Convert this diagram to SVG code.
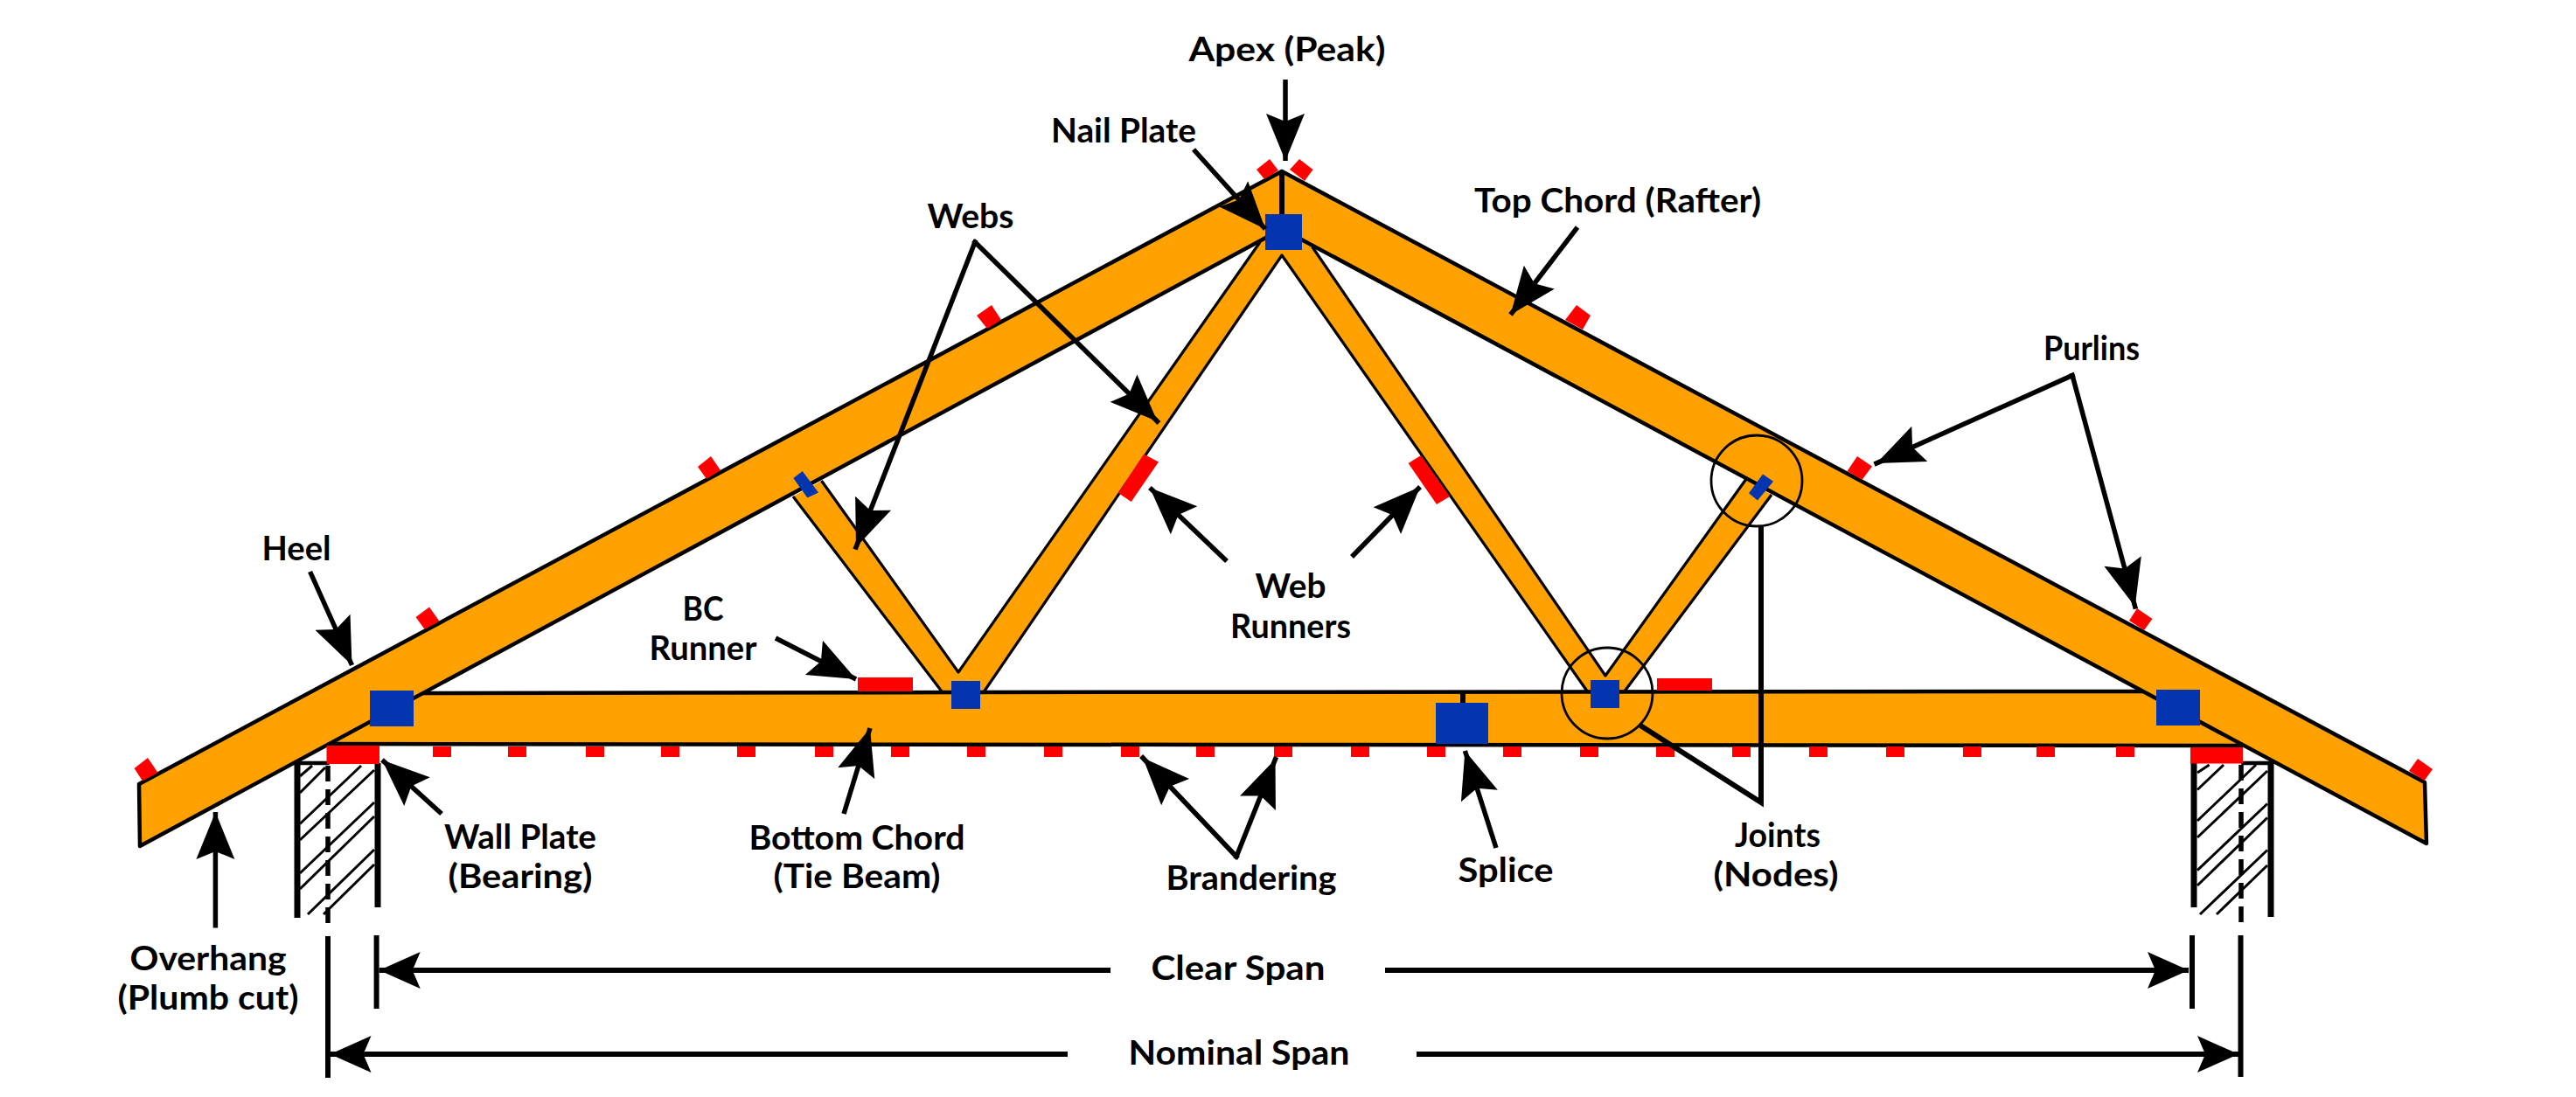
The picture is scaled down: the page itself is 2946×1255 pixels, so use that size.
<svg xmlns="http://www.w3.org/2000/svg" width="2946" height="1255" viewBox="0 0 2946 1255">
<style>
.o{fill:#FFA100;stroke:none}
.e{fill:none;stroke:#000;stroke-width:4.5;stroke-linejoin:round;stroke-linecap:round}
.w{fill:none;stroke:#000;stroke-width:3.2;stroke-linejoin:round}
.b{fill:#0335B0}
.r{fill:#F00}
.l{fill:none;stroke:#000;stroke-width:6}
.a{fill:none;stroke:#000;stroke-width:5.5;marker-end:url(#h)}
.m{stroke-linecap:square}
.d{fill:none;stroke:#000;stroke-width:6;marker-end:url(#dh)}
.c{fill:none;stroke:#000;stroke-width:2.8}
.v{fill:none;stroke:#000;stroke-width:7}
.da{fill:none;stroke:#000;stroke-width:5.5;stroke-dasharray:18 9}
.h{fill:none;stroke:#000;stroke-width:3}
text{font-family:"Lato","Liberation Sans",sans-serif;font-weight:700;font-size:39px;fill:#000;text-anchor:middle}
</style>
<defs>
<marker id="h" markerUnits="userSpaceOnUse" markerWidth="56" markerHeight="48" refX="54" refY="24" orient="auto"><path d="M0,2 L54,24 L0,46 L9,24z"/></marker>
<marker id="dh" markerUnits="userSpaceOnUse" markerWidth="50" markerHeight="46" refX="47" refY="23" orient="auto"><path d="M0,2 L47,23 L0,44 L9,23z"/></marker>
</defs>
<g id="wall-left">
<path class="h" d="M343,888L357,876M343,907L372,878M343,942.5L413,876M343,961L428,881M343,999L428,918M343,1017L428,934M352,1046L428,972M370,1046L428,989"/>
<path class="v" d="M340,871V1050M432,873V1038"/>
<path class="e" d="M340,873H375"/>
<path class="da" d="M375,876V1059"/>
</g>
<g id="wall-right">
<path class="h" d="M2513,884L2526.6,875M2513,903.5L2543,875M2513,939L2580,875M2513,958L2593,882M2513,995.6L2593,919.5M2513,1013L2593,935.5M2516,1046L2593,972.5M2535,1046L2593,990"/>
<path class="v" d="M2509,873V1038M2597,872V1049"/>
<path class="e" d="M2565,873H2597"/>
<path class="da" d="M2563,875V1063"/>
</g>
<g id="webs">
<polygon class="o" points="907,568 939.5,550 1096,769 1125.5,792 1077,792"/>
<polygon class="o" points="1096,769 1441,277 1441,255 1490,255 1500.5,282 1836,773 1858.5,792 1816,792 1466,292 1125.5,792"/>
<polygon class="o" points="1836,773 1997,548 2026,566 1858.5,792 1816,792"/>
<path class="w" d="M907,568L1077,791M939.5,550L1096,769L1441,277M1125.5,791L1466,292L1816,792M1500.5,282L1836,773L1997,548M1858.5,790L2026,566"/>
</g>
<g id="bottom-chord">
<polygon class="o" points="376,851 484,793 2450,791 2564,853"/>
<path class="e" d="M484,793L1100,792L2450,791M376,851L1400,852L2564,853"/>
</g>
<g id="top-chord-left">
<polygon class="o" points="159,897 1466,196 1466,262 160,968"/>
<path class="e" d="M1466,262L160,968L159,897L1466,196"/>
</g>
<g id="top-chord-right">
<polygon class="o" points="1466,196 2773,895 2775,965 1466,262"/>
<path class="e" d="M1466,196L2773,895L2775,965L1466,262"/>
</g>
<g id="apex-line"><path class="l" d="M1466,196V245"/><path class="l" d="M1673,792V805"/></g>
<g id="nail-plates">
<rect class="b" x="423" y="790" width="50" height="41"/>
<rect class="b" x="1447" y="245" width="42" height="41"/>
<rect class="b" x="1088" y="779" width="33" height="32"/>
<rect class="b" x="1642" y="804" width="60" height="47"/>
<rect class="b" x="1819" y="778" width="33" height="32"/>
<rect class="b" x="2466" y="789" width="50" height="41"/>
<polygon class="b" points="917.7,539 936,563.6 923.4,569.6 907.3,547"/>
<polygon class="b" points="2016,542.4 2028,550.8 2010,572.6 2000,564.2"/>
</g>
<g id="purlins">
<polygon class="r" points="153.6,879 169,867 180.6,884 163,893.6"/>
<polygon class="r" points="475.5,706 491,694.4 502.5,710.7 485.7,720"/>
<polygon class="r" points="798,534 813,522 824,538 808,548"/>
<polygon class="r" points="1117,361 1134,349 1145,366 1129,376"/>
<polygon class="r" points="1437,194 1452,182 1462,195 1446,205"/>
<polygon class="r" points="1475,194 1486,182 1501.5,194 1492,207"/>
<polygon class="r" points="1790,366 1803,349 1819,361 1810,377"/>
<polygon class="r" points="2112.5,539 2124,522 2141,533.6 2129.5,549"/>
<polygon class="r" points="2435,710 2444,696 2461.5,708 2452,721"/>
<polygon class="r" points="2755,882 2765,868 2782,880 2772.6,893"/>
</g>
<g id="runners">
<polygon class="r" points="1308,519.6 1325,528.6 1293.7,574 1279,564"/>
<polygon class="r" points="1610.6,530 1625,521 1658,568 1643,577"/>
<rect class="r" x="981" y="775" width="63" height="16"/>
<rect class="r" x="1895" y="776" width="63" height="14"/>
</g>
<g id="wall-plates">
<rect class="r" x="373.5" y="853" width="60.5" height="21"/>
<rect class="r" x="2505" y="855" width="60" height="18.5"/>
</g>
<g id="brandering" class="r">
<rect x="495" y="854" width="21" height="12"/><rect x="581" y="854" width="21" height="12"/><rect x="670" y="854" width="21" height="12"/><rect x="756" y="854" width="21" height="12"/><rect x="843" y="854" width="21" height="12"/><rect x="932" y="854" width="21" height="12"/><rect x="1019" y="854" width="21" height="12"/><rect x="1106" y="854" width="21" height="12"/><rect x="1194" y="854" width="21" height="12"/><rect x="1282" y="854" width="21" height="12"/><rect x="1368" y="854" width="21" height="12"/><rect x="1457" y="854" width="21" height="12"/><rect x="1545" y="854" width="21" height="12"/><rect x="1632" y="854" width="21" height="12"/><rect x="1719" y="854" width="21" height="12"/><rect x="1807" y="854" width="21" height="12"/><rect x="1894" y="854" width="21" height="12"/><rect x="1981" y="854" width="21" height="12"/><rect x="2069" y="854" width="21" height="12"/><rect x="2157" y="854" width="21" height="12"/><rect x="2245" y="854" width="21" height="12"/><rect x="2329" y="854" width="21" height="12"/><rect x="2420" y="854" width="21" height="12"/>
</g>
<g id="joint-circles">
<circle class="c" cx="2009" cy="550" r="52"/>
<circle class="c" cx="1838" cy="793" r="52"/>
</g>
<g id="connectors">
<path class="a" d="M354.6,654L402.5,761"/>
<path class="a" d="M505,931L437,869.4"/>
<path class="a" d="M246.4,1061.6V929"/>
<path class="a" d="M1470,91V184"/>
<path class="a" d="M1365,171L1447,262"/>
<path class="a m" d="M1115,277L1323.5,482"/>
<path class="a m" d="M1115,277L979,626"/>
<path class="a" d="M1804,260L1727.5,360"/>
<path class="a m" d="M2370,429.5L2146,530"/>
<path class="a m" d="M2370,429.5L2441.7,694"/>
<path class="a" d="M1403,642L1315,558"/>
<path class="a" d="M1546,637L1624,557"/>
<path class="a" d="M887,730L979,777"/>
<path class="a" d="M965,931L995,833"/>
<path class="a m" d="M1414,980L1307,867"/>
<path class="a m" d="M1414,980L1458.5,868.6"/>
<path class="a" d="M1711,970L1675.4,859"/>
<path class="l" d="M2014,602.5V918L1876,830"/>
<path class="l" d="M375,1071V1233M430.6,1070V1154M2507,1070V1154M2562.5,1070V1232"/>
<path class="d" d="M1270,1110H433.7"/>
<path class="d" d="M1584,1110H2503"/>
<path class="d" d="M1221,1206H377.5"/>
<path class="d" d="M1620,1206H2560"/>
</g>
<g id="labels">
<text x="1472" y="70" textLength="225" lengthAdjust="spacingAndGlyphs">Apex (Peak)</text>
<text x="1285" y="163" textLength="166" lengthAdjust="spacingAndGlyphs">Nail Plate</text>
<text x="1110" y="261" textLength="99" lengthAdjust="spacingAndGlyphs">Webs</text>
<text x="1850" y="243" textLength="328" lengthAdjust="spacingAndGlyphs">Top Chord (Rafter)</text>
<text x="2392" y="412" textLength="110" lengthAdjust="spacingAndGlyphs">Purlins</text>
<text x="339" y="641" textLength="79" lengthAdjust="spacingAndGlyphs">Heel</text>
<text x="804" y="710" textLength="47" lengthAdjust="spacingAndGlyphs">BC</text>
<text x="804" y="755" textLength="123" lengthAdjust="spacingAndGlyphs">Runner</text>
<text x="1476" y="684" textLength="81" lengthAdjust="spacingAndGlyphs">Web</text>
<text x="1476" y="730" textLength="138" lengthAdjust="spacingAndGlyphs">Runners</text>
<text x="595" y="971" textLength="174" lengthAdjust="spacingAndGlyphs">Wall Plate</text>
<text x="595" y="1016" textLength="165" lengthAdjust="spacingAndGlyphs">(Bearing)</text>
<text x="980" y="972" textLength="247" lengthAdjust="spacingAndGlyphs">Bottom Chord</text>
<text x="980" y="1016" textLength="191" lengthAdjust="spacingAndGlyphs">(Tie Beam)</text>
<text x="1431" y="1018" textLength="195" lengthAdjust="spacingAndGlyphs">Brandering</text>
<text x="1722" y="1009" textLength="109" lengthAdjust="spacingAndGlyphs">Splice</text>
<text x="2033" y="969" textLength="98" lengthAdjust="spacingAndGlyphs">Joints</text>
<text x="2031" y="1014" textLength="143" lengthAdjust="spacingAndGlyphs">(Nodes)</text>
<text x="238" y="1110" textLength="179" lengthAdjust="spacingAndGlyphs">Overhang</text>
<text x="238" y="1155" textLength="207" lengthAdjust="spacingAndGlyphs">(Plumb cut)</text>
<text x="1416" y="1121" textLength="199" lengthAdjust="spacingAndGlyphs">Clear Span</text>
<text x="1417" y="1218" textLength="253" lengthAdjust="spacingAndGlyphs">Nominal Span</text>
</g>
</svg>
